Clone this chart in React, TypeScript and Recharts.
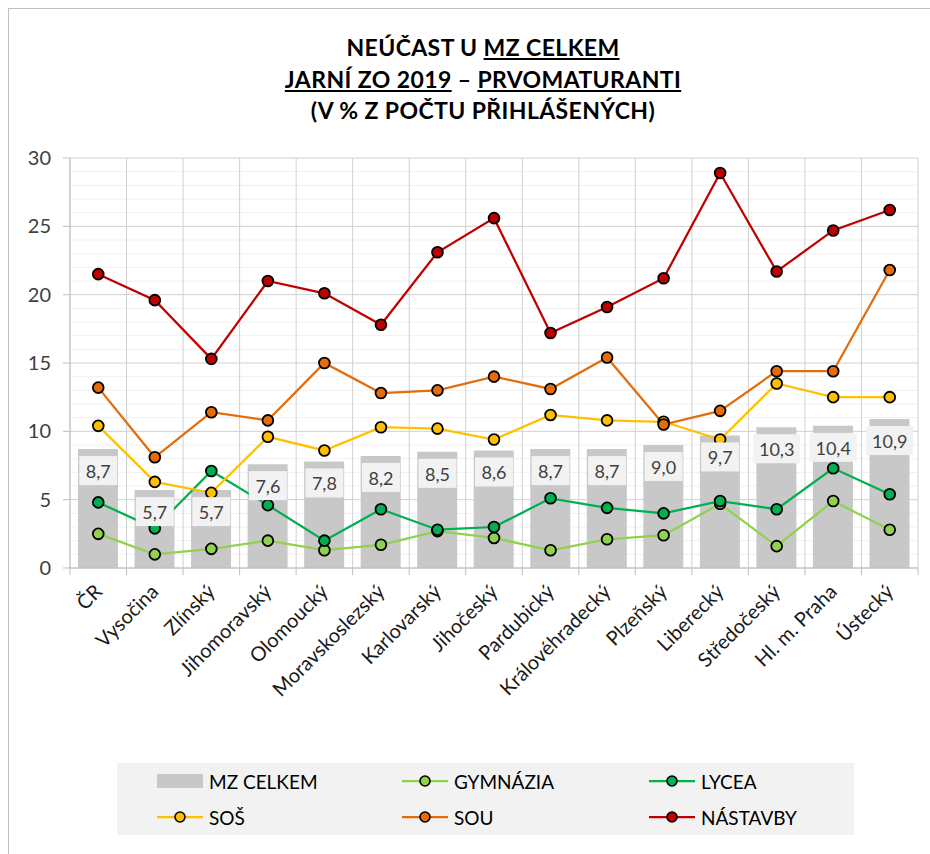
import React from 'react'
import { ComposedChart, Bar, Line, XAxis, YAxis, CartesianGrid, Legend, LabelList } from 'recharts'

const categories = [
  'ČR', 'Vysočina', 'Zlínský', 'Jihomoravský', 'Olomoucký', 'Moravskoslezský', 'Karlovarský',
  'Jihočeský', 'Pardubický', 'Královéhradecký', 'Plzeňský', 'Liberecký', 'Středočeský', 'Hl. m. Praha', 'Ústecký',
]
const mzCelkem = [8.7, 5.7, 5.7, 7.6, 7.8, 8.2, 8.5, 8.6, 8.7, 8.7, 9.0, 9.7, 10.3, 10.4, 10.9]
const gymnazia = [2.5, 1.0, 1.4, 2.0, 1.3, 1.7, 2.7, 2.2, 1.3, 2.1, 2.4, 4.7, 1.6, 4.9, 2.8]
const lycea = [4.8, 2.9, 7.1, 4.6, 2.0, 4.3, 2.8, 3.0, 5.1, 4.4, 4.0, 4.9, 4.3, 7.3, 5.4]
const sos = [10.4, 6.3, 5.5, 9.6, 8.6, 10.3, 10.2, 9.4, 11.2, 10.8, 10.7, 9.4, 13.5, 12.5, 12.5]
const sou = [13.2, 8.1, 11.4, 10.8, 15.0, 12.8, 13.0, 14.0, 13.1, 15.4, 10.5, 11.5, 14.4, 14.4, 21.8]
const nastavby = [21.5, 19.6, 15.3, 21.0, 20.1, 17.8, 23.1, 25.6, 17.2, 19.1, 21.2, 28.9, 21.7, 24.7, 26.2]
const yTicks = [0, 5, 10, 15, 20, 25, 30]

const lineSeries = [
  { key: 'gym', name: 'GYMNÁZIA', color: '#92d050' },
  { key: 'lyc', name: 'LYCEA', color: '#00b050' },
  { key: 'sos', name: 'SOŠ', color: '#ffc000' },
  { key: 'sou', name: 'SOU', color: '#e46c0a' },
  { key: 'nas', name: 'NÁSTAVBY', color: '#c00000' },
]

const data = categories.map((name, i) => ({
  name,
  mz: mzCelkem[i],
  gym: gymnazia[i],
  lyc: lycea[i],
  sos: sos[i],
  sou: sou[i],
  nas: nastavby[i],
}))

const FONT = 'Lato, "Open Sans", sans-serif'
const YMAX = 30

const fmt = (v: number) => v.toFixed(1).replace('.', ',')

const minorLines = ({ offset }: any) => {
  const out: number[] = []
  for (let v = 0; v <= YMAX; v++) if (v % 5 !== 0) out.push(offset.top + offset.height * (1 - v / YMAX))
  return out
}
const majorLines = ({ offset }: any) => yTicks.map(v => offset.top + offset.height * (1 - v / YMAX))
const boundaryLines = ({ offset }: any) =>
  Array.from({ length: categories.length + 1 }, (_, i) => offset.left + (offset.width * i) / categories.length)

const XTick = (props: any) => {
  const { x, y, payload, index } = props
  const half = 848 / categories.length / 2
  const tx = x + 5
  const ty = y + 25
  return (
    <g>
      <line x1={x - half} x2={x - half} y1={y} y2={y + 7} stroke="#bfbfbf" />
      {index === categories.length - 1 && <line x1={x + half} x2={x + half} y1={y} y2={y + 7} stroke="#bfbfbf" />}
      <text x={tx} y={ty} transform={`rotate(-45, ${tx}, ${ty})`} textAnchor="end" fontSize={20} fontFamily={FONT} fill="#1a1a1a">
        {payload.value}
      </text>
    </g>
  )
}

const BoxLabel = (props: any) => {
  const { x, y, value } = props
  const txt = fmt(value)
  const w = txt.length > 3 ? 47 : 38
  return (
    <g>
      <rect x={x - w / 2} y={y + 7} width={w} height={29} fill="#f2f2f2" />
      <text x={x} y={y + 22} textAnchor="middle" dominantBaseline="central" fontSize={18} fontFamily={FONT} fill="#404040">
        {txt}
      </text>
    </g>
  )
}

const legendItems = [
  { name: 'MZ CELKEM', color: '#c8c8c8', bar: true },
  ...lineSeries.map(s => ({ name: s.name, color: s.color, bar: false })),
]

const LegendBox = () => {
  const cols = [40, 285, 532]
  return (
    <div style={{ position: 'relative', width: 737, height: 72, background: '#f2f2f2', fontFamily: FONT }}>
      {legendItems.map((it, i) => {
        const left = cols[i % 3]
        const cy = i < 3 ? 18 : 54
        return (
          <div key={it.name} style={{ position: 'absolute', left, top: cy - 12, height: 24, display: 'flex', alignItems: 'center' }}>
            <svg width={46} height={24}>
              {it.bar ? (
                <rect x={0} y={5} width={46} height={14} fill={it.color} />
              ) : (
                <>
                  <line x1={0} x2={46} y1={12} y2={12} stroke={it.color} strokeWidth={2.25} />
                  <circle cx={23} cy={12} r={5} fill={it.color} stroke="#000" strokeWidth={1.6} />
                </>
              )}
            </svg>
            <span style={{ marginLeft: 6, fontSize: 19, color: '#000', whiteSpace: 'nowrap' }}>{it.name}</span>
          </div>
        )
      })}
    </div>
  )
}

const titleLine = (top: number, content: React.ReactNode) => (
  <div style={{ position: 'absolute', left: 0, width: 966, top, textAlign: 'center', fontFamily: FONT, fontWeight: 700, fontSize: 23, letterSpacing: 0.4, lineHeight: '32px', color: '#000' }}>
    {content}
  </div>
)

export default function App() {
  return (
    <div style={{ position: 'absolute', left: 0, top: 0, width: 930, height: 854, overflow: 'hidden', background: '#fff' }}>
      <div style={{ position: 'absolute', left: 8, top: 8, width: 980, height: 920, border: '1px solid #bfbfbf', boxSizing: 'border-box' }} />
      {titleLine(31, <>NEÚČAST U <u>MZ CELKEM</u></>)}
      {titleLine(63, <><u>JARNÍ ZO 2019</u> – <u>PRVOMATURANTI</u></>)}
      {titleLine(94, <>(V % Z POČTU PŘIHLÁŠENÝCH)</>)}
      <div style={{ position: 'absolute', left: 0, top: 0 }}>
        <ComposedChart width={930} height={854} data={data} margin={{ top: 158, right: 12, bottom: 19, left: 0 }}>
          <CartesianGrid horizontalCoordinatesGenerator={minorLines} vertical={false} stroke="#f0f0f0" />
          <CartesianGrid horizontalCoordinatesGenerator={majorLines} verticalCoordinatesGenerator={boundaryLines} stroke="#d0d0d0" />
          <XAxis
            dataKey="name"
            interval={0}
            height={195}
            tickLine={false}
            tickSize={0}
            tickMargin={0}
            axisLine={{ stroke: '#bfbfbf' }}
            tick={<XTick />}
          />
          <YAxis
            domain={[0, YMAX]}
            ticks={yTicks}
            width={70}
            tickSize={7}
            tickMargin={12}
            axisLine={{ stroke: '#bfbfbf' }}
            tickLine={{ stroke: '#bfbfbf' }}
            tick={{ fill: '#404040', fontSize: 20, fontFamily: FONT }}
          />
          <Legend verticalAlign="bottom" content={<LegendBox />} wrapperStyle={{ left: 117, bottom: 19, width: 737, height: 72 }} />
          <Bar dataKey="mz" name="MZ CELKEM" fill="#c8c8c8" barSize={40} isAnimationActive={false} />
          {lineSeries.map(s => (
            <Line
              key={s.key}
              type="linear"
              dataKey={s.key}
              name={s.name}
              stroke={s.color}
              strokeWidth={2.25}
              dot={{ r: 5.4, fill: s.color, stroke: '#000', strokeWidth: 1.8 }}
              activeDot={false}
              isAnimationActive={false}
            />
          ))}
          <Line dataKey="mz" stroke="none" dot={false} activeDot={false} legendType="none" isAnimationActive={false}>
            <LabelList dataKey="mz" content={<BoxLabel />} />
          </Line>
        </ComposedChart>
      </div>
    </div>
  )
}
